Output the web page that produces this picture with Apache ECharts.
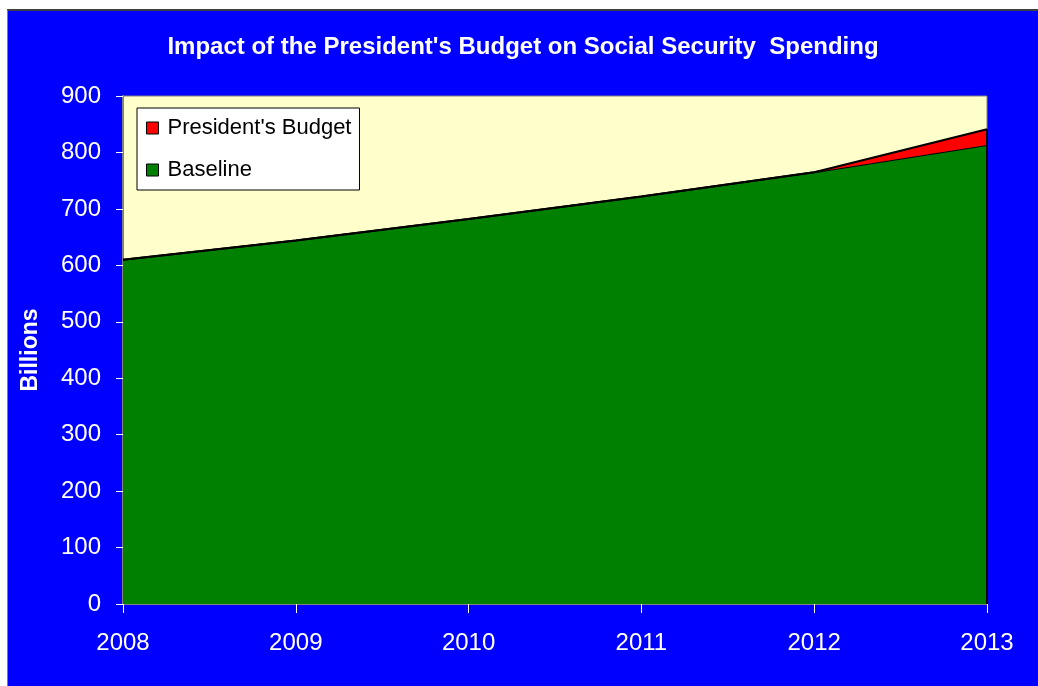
<!DOCTYPE html>
<html>
<head>
<meta charset="utf-8">
<script src="https://cdn.jsdelivr.net/npm/echarts@6/dist/echarts.min.js"></script>
<style>
  html, body { margin: 0; padding: 0; background: #ffffff; width: 1038px; height: 686px; overflow: hidden; }
  #frame { position: absolute; left: 7px; top: 9px; width: 1031px; height: 677px;
           border-top: 2px solid #404040; border-left: 1px solid #808080; box-sizing: border-box; background: #0000FF; }
  #chart { position: absolute; left: 0; top: 0; width: 1030px; height: 675px; }
</style>
</head>
<body>
<div id="frame"><div id="chart"></div></div>
<script>
const years = ['2008', '2009', '2010', '2011', '2012', '2013'];
const baseline = [610, 644, 682, 722, 765, 813];
const presidentIncrement = [0, 0, 0, 0, 0, 28];
const yTicks = { min: 0, max: 900, interval: 100 };
const titleText = "Impact of the President's Budget on Social Security  Spending";
const yAxisName = 'Billions';
const seriesNames = ["President's Budget", 'Baseline'];

const lastIdx = years.length - 1;
const lastTotal = baseline[lastIdx] + presidentIncrement[lastIdx];

const chart = echarts.init(document.getElementById('chart'));
const font = 'Liberation Sans, Arial, sans-serif';
chart.setOption({
  backgroundColor: '#0000FF',
  animation: false,
  title: {
    text: titleText,
    left: 'center',
    top: 19,
    textStyle: { color: '#ffffff', fontSize: 24, fontWeight: 'bold', fontFamily: font }
  },
  legend: {
    data: seriesNames,
    orient: 'vertical',
    left: 129,
    top: 97,
    padding: [9, 8, 9, 9],
    itemGap: 20,
    itemWidth: 12,
    itemHeight: 12,
    icon: 'rect',
    backgroundColor: '#ffffff',
    borderColor: '#000000',
    borderWidth: 1,
    borderRadius: 0,
    itemStyle: { borderColor: '#000000', borderWidth: 1 },
    textStyle: { color: '#000000', fontSize: 22, fontFamily: font, padding: [0, 0, 0, 4] }
  },
  grid: {
    left: 115, right: 51, top: 85, bottom: 82,
    containLabel: false, outerBoundsMode: 'none',
    show: true, backgroundColor: '#FFFFCC', borderColor: '#808080', borderWidth: 1
  },
  xAxis: {
    type: 'category',
    data: years,
    boundaryGap: false,
    axisLine: { lineStyle: { color: '#808080', width: 2 } },
    axisTick: { show: true, length: 9, lineStyle: { color: '#ffffff' } },
    axisLabel: { color: '#ffffff', fontSize: 24, fontFamily: font, margin: 27, showMaxLabel: true, showMinLabel: true },
    splitLine: { show: false }
  },
  yAxis: {
    type: 'value',
    min: yTicks.min, max: yTicks.max, interval: yTicks.interval,
    name: yAxisName,
    nameLocation: 'middle',
    nameGap: 81,
    nameTextStyle: { color: '#ffffff', fontSize: 23, fontWeight: 'bold', fontFamily: font },
    axisLine: { show: true, lineStyle: { color: '#808080', width: 2 } },
    axisTick: { show: true, length: 7, lineStyle: { color: '#ffffff' } },
    axisLabel: { color: '#ffffff', fontSize: 24, fontFamily: font, margin: 22 },
    splitLine: { show: false }
  },
  series: [
    {
      name: 'Baseline',
      type: 'line',
      stack: 'total',
      data: baseline,
      symbol: 'none',
      lineStyle: { color: '#000000', width: 2 },
      itemStyle: { color: '#008000', borderColor: '#000000' },
      areaStyle: { color: '#008000', opacity: 1 },
      z: 2
    },
    {
      name: "President's Budget",
      type: 'line',
      stack: 'total',
      data: presidentIncrement,
      symbol: 'none',
      lineStyle: { color: '#000000', width: 2 },
      itemStyle: { color: '#FF0000', borderColor: '#000000' },
      areaStyle: { color: '#FF0000', opacity: 1 },
      z: 3,
      markLine: {
        silent: true,
        symbol: ['none', 'none'],
        label: { show: false },
        lineStyle: { color: '#000000', width: 2, type: 'solid' },
        data: [[
          { coord: [years[lastIdx], 0] },
          { coord: [years[lastIdx], lastTotal] }
        ]]
      }
    }
  ]
});
</script>
</body>
</html>
